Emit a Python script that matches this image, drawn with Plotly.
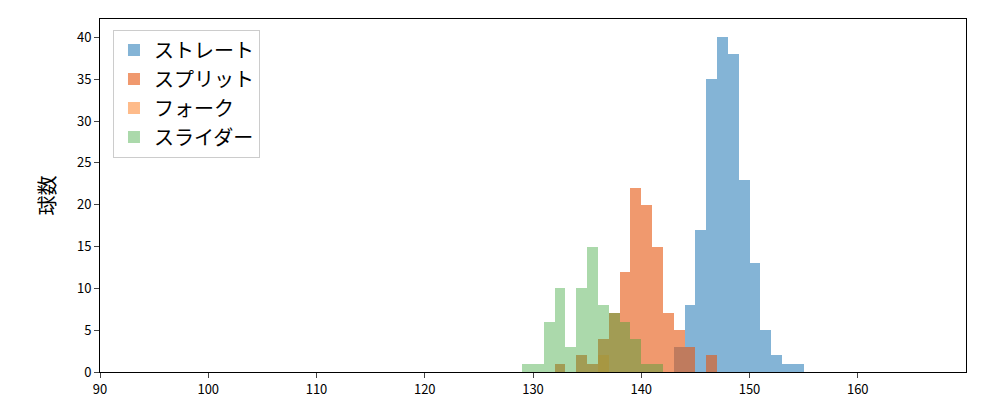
import plotly.graph_objects as go

straight_x = [143,144,145,146,147,148,149,150,151,152,153,154]
straight_y = [3,8,17,35,40,38,23,13,5,2,1,1]
split_x = [132,134,135,136,137,138,139,140,141,142,143,144,146]
split_y = [1,2,1,4,7,12,22,20,15,7,5,3,2]
fork_x = [136]
fork_y = [2]
slider_x = [129,130,131,132,133,134,135,136,137,138,139,140,141]
slider_y = [1,1,6,10,3,10,15,8,7,6,4,1,1]

series = [
    ("ストレート", straight_x, straight_y, "rgba(31,119,180,0.55)"),
    ("スプリット", split_x, split_y, "rgba(230,85,13,0.6)"),
    ("フォーク", fork_x, fork_y, "rgba(253,141,60,0.6)"),
    ("スライダー", slider_x, slider_y, "rgba(44,160,44,0.4)"),
]
fig = go.Figure()
for name, xs, ys, c in series:
    fig.add_trace(go.Bar(x=[v + 0.5 for v in xs], y=ys, width=1, name=name,
                         marker=dict(color=c, line_width=0)))

font = "Noto Sans CJK JP"
fig.update_layout(
    barmode="overlay", bargap=0, width=1000, height=400, plot_bgcolor="white", paper_bgcolor="white",
    margin=dict(l=92, r=42, t=10, b=32), font=dict(family=font, size=13, color="black"),
    showlegend=True,
    legend=dict(x=0.015, y=0.97, xanchor="left", yanchor="top", bordercolor="#cccccc",
                borderwidth=1, font=dict(size=20), bgcolor="white", tracegroupgap=2),
)
fig.update_xaxes(range=[90, 170], tickmode="array", tickvals=list(range(90, 170, 10)),
                 showline=True, linecolor="black", mirror=True, ticks="outside",
                 showgrid=False, zeroline=False)
fig.update_yaxes(range=[0, 42.2], tickmode="array", tickvals=list(range(0, 41, 5)),
                 showline=True, linecolor="black", mirror=True, ticks="outside",
                 showgrid=False, zeroline=False, title=dict(text="球数", font=dict(size=20)))
fig.write_html("out.html")
